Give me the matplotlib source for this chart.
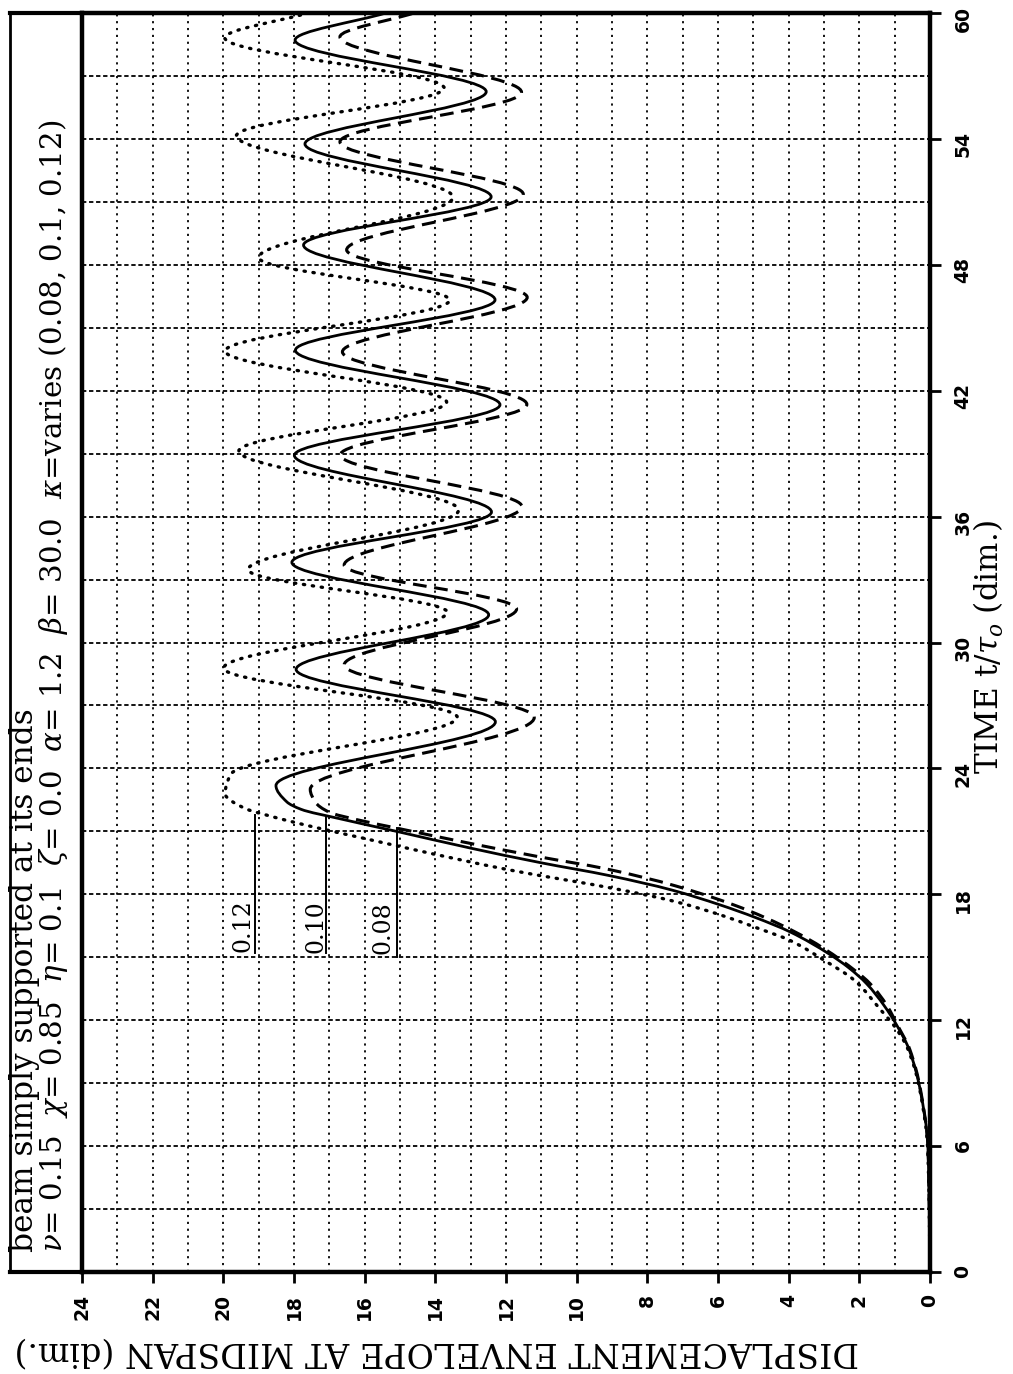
import numpy as np
import matplotlib.pyplot as plt
from matplotlib.path import Path
from matplotlib.patches import PathPatch

plt.rcParams['font.family'] = 'DejaVu Serif'
plt.rcParams['mathtext.fontset'] = 'dejavuserif'

# displacement envelope at midspan
# kappa = 0.10 (solid)
t_k10 = [0, 3, 6, 8.7, 10.6, 11.7, 12.7, 13.75, 14.5, 15.15, 16.2, 16.9, 17.5, 18.2,
         18.9, 19.5, 20.2, 21.0, 21.6, 22.05, 22.4, 23.18, 26.22, 28.72, 31.32, 33.82,
         36.22, 38.92, 41.33, 43.93, 46.33, 48.94, 51.24, 53.76, 56.25, 58.71, 60]
d_k10 = [0, 0.02, 0.06, 0.28, 0.59, 0.92, 1.3, 1.8, 2.3, 2.85, 3.95, 4.95, 5.95, 7.3,
         9.1, 11.0, 13.0, 15.1, 16.7, 17.8, 18.2, 18.51, 12.30, 17.94, 12.49, 18.06,
         12.41, 17.99, 12.17, 17.96, 12.31, 17.73, 12.42, 17.69, 12.56, 17.97, 15.4]
# kappa = 0.08 (dashed)
t_k08 = [0, 3, 6, 8.7, 10.6, 11.7, 12.7, 13.75, 14.9, 15.9, 17.2, 18.4, 19.22, 19.8,
         20.48, 21.15, 21.55, 21.91, 22.4, 23.0, 26.43, 28.93, 31.6, 33.69, 36.48, 38.94,
         41.35, 43.85, 46.45, 48.71, 51.36, 53.86, 56.22, 58.86, 60]
d_k08 = [0, 0.02, 0.06, 0.27, 0.57, 0.9, 1.22, 1.7, 2.55, 3.48, 5.1, 7.2, 9.19, 11.1,
         13.17, 15.08, 16.2, 17.0, 17.4, 17.54, 11.20, 16.58, 11.7, 16.58, 11.55, 16.69,
         11.41, 16.63, 11.40, 16.51, 11.51, 16.70, 11.56, 16.70, 14.6]
# kappa = 0.12 (dotted)
t_k12 = [0, 3, 6, 8.7, 10.6, 11.7, 12.5, 13.9, 14.86, 15.8, 16.4, 17.0, 17.69, 18.26,
         19.16, 20.2, 20.66, 21.19, 21.74, 22.1, 22.8, 23.7, 26.44, 28.78, 31.44, 33.47,
         36.31, 39.13, 41.45, 43.89, 46.32, 48.34, 51.22, 54.15, 56.42, 58.82, 60]
d_k12 = [0, 0.02, 0.07, 0.29, 0.62, 1.0, 1.4, 2.14, 3.0, 3.96, 4.9, 5.9, 7.3, 8.9,
         11.9, 14.8, 16.0, 17.4, 18.7, 19.4, 19.95, 19.8, 13.38, 19.99, 13.66, 19.30,
         13.34, 19.56, 13.68, 19.95, 13.59, 19.0, 13.5, 19.63, 13.75, 19.96, 17.6]

# curve labels with their leader lines
lab_text = ['0.12', '0.10', '0.08']
lab_disp = [19.43, 17.39, 15.49]
lab_t = [16.5, 16.47, 16.4]
lead_disp = [19.1, 17.1, 15.09]
lead_t0 = [15.2, 15.2, 15.0]
lead_t1 = [21.8, 21.7, 21.15]

disp_ticks = list(range(0, 25, 2))
time_ticks = list(range(0, 61, 6))
disp_grid = list(range(0, 25))
time_grid = list(range(0, 61, 3))

title1 = 'beam simply supported at its ends'
title2 = (r'$\nu$= 0.15  $\chi$= 0.85  $\eta$= 0.1  $\zeta$= 0.0  $\alpha$= 1.2  '
          r'$\beta$= 30.0  $\kappa$=varies (0.08, 0.1, 0.12)')


def smooth_path(t, v):
    # monotone cubic segments between the read points, drawn as bezier curves
    t = np.asarray(t, float)
    v = np.asarray(v, float)
    h = np.diff(t)
    d = np.diff(v) / h
    m = np.zeros_like(v)
    m[0] = d[0]
    m[-1] = d[-1]
    for k in range(1, len(v) - 1):
        if d[k - 1] * d[k] > 0:
            w1 = 2 * h[k] + h[k - 1]
            w2 = h[k] + 2 * h[k - 1]
            m[k] = (w1 + w2) / (w1 / d[k - 1] + w2 / d[k])
    verts = [(v[0], t[0])]
    codes = [Path.MOVETO]
    for k in range(len(h)):
        verts += [(v[k] + m[k] * h[k] / 3, t[k] + h[k] / 3),
                  (v[k + 1] - m[k + 1] * h[k] / 3, t[k + 1] - h[k] / 3),
                  (v[k + 1], t[k + 1])]
        codes += [Path.CURVE4] * 3
    return Path(verts, codes)


W, H = 1013, 1374
fig = plt.figure(figsize=(W / 100, H / 100), dpi=100)
L, R, T, B = 82, 930, 13, 1272

# title box to the left of the plot (added first so the plot frame sits on top)
tb = fig.add_axes([10 / W, 1 - B / H, (L - 10) / W, (B - T) / H])
tb.set_xticks([])
tb.set_yticks([])
tb.spines['right'].set_visible(False)
tb.spines['left'].set_linewidth(2)
tb.spines['top'].set_linewidth(3)
tb.spines['bottom'].set_linewidth(3)

ax = fig.add_axes([L / W, 1 - B / H, (R - L) / W, (B - T) / H])
ax.set_xlim(24, 0)
ax.set_ylim(0, 60)

ax.set_xticks(disp_ticks)
ax.set_yticks(time_ticks)
ax.set_xticks(disp_grid, minor=True)
ax.set_yticks(time_grid, minor=True)
ax.xaxis.remove_overlapping_locs = False
ax.yaxis.remove_overlapping_locs = False
ax.grid(which='minor', axis='x', color='black', lw=1.3, ls=(0, (1.2, 2.6)))
ax.grid(which='minor', axis='y', color='black', lw=1.3, ls=(0, (2.4, 1.5)))
ax.yaxis.tick_right()
ax.tick_params(which='minor', length=0)
ax.tick_params(axis='x', which='major', direction='out', length=8, width=2, pad=8,
               labelrotation=90, labelsize=13.5)
ax.tick_params(axis='y', which='major', direction='out', length=8, width=2, pad=9,
               labelrotation=90, labelsize=13.5, right=True, left=False,
               labelright=True, labelleft=False)
for lab in ax.get_xticklabels() + ax.get_yticklabels():
    lab.set_fontweight('bold')
    lab.set_family('DejaVu Sans')
for s in ax.spines.values():
    s.set_linewidth(3.2)

ax.add_patch(PathPatch(smooth_path(t_k10, d_k10), fill=False, ec='black', lw=2.0))
ax.add_patch(PathPatch(smooth_path(t_k08, d_k08), fill=False, ec='black', lw=2.2,
                       ls=(0, (4.5, 2.5))))
ax.add_patch(PathPatch(smooth_path(t_k12, d_k12), fill=False, ec='black', lw=2.4,
                       ls=(0, (0.4, 2.3)), capstyle='round'))

for txt, x, y, lx, y0, y1 in zip(lab_text, lab_disp, lab_t, lead_disp, lead_t0, lead_t1):
    ax.text(x, y, txt, rotation=90, ha='center', va='center', fontsize=17)
    ax.plot([lx, lx], [y0, y1], color='black', lw=1.4)

renderer = fig.canvas.get_renderer()


def fit(txt, length_px, vertical=True):
    for _ in range(3):
        bb = txt.get_window_extent(renderer)
        cur = bb.height if vertical else bb.width
        txt.set_fontsize(txt.get_fontsize() * length_px / cur)


t2 = fig.text(62 / W, 1 - 1252 / H, title2, rotation=90, rotation_mode='anchor',
              ha='left', va='baseline', fontsize=20)
fit(t2, 1132)
t1 = fig.text(33 / W, 1 - 1252 / H, title1, rotation=90, rotation_mode='anchor',
              ha='left', va='baseline', fontsize=t2.get_fontsize() * 1.07)

xl = fig.text(437 / W, 1 - 1351 / H, 'DISPLACEMENT ENVELOPE AT MIDSPAN (dim.)',
              rotation=180, ha='center', va='center', fontsize=20)
fit(xl, 845, vertical=False)
yl = fig.text(989 / W, 1 - 647 / H, r'TIME t/$\tau_o$ (dim.)', rotation=90,
              ha='center', va='center', fontsize=18)
fit(yl, 253)

fig.savefig('out.png', dpi=100)
